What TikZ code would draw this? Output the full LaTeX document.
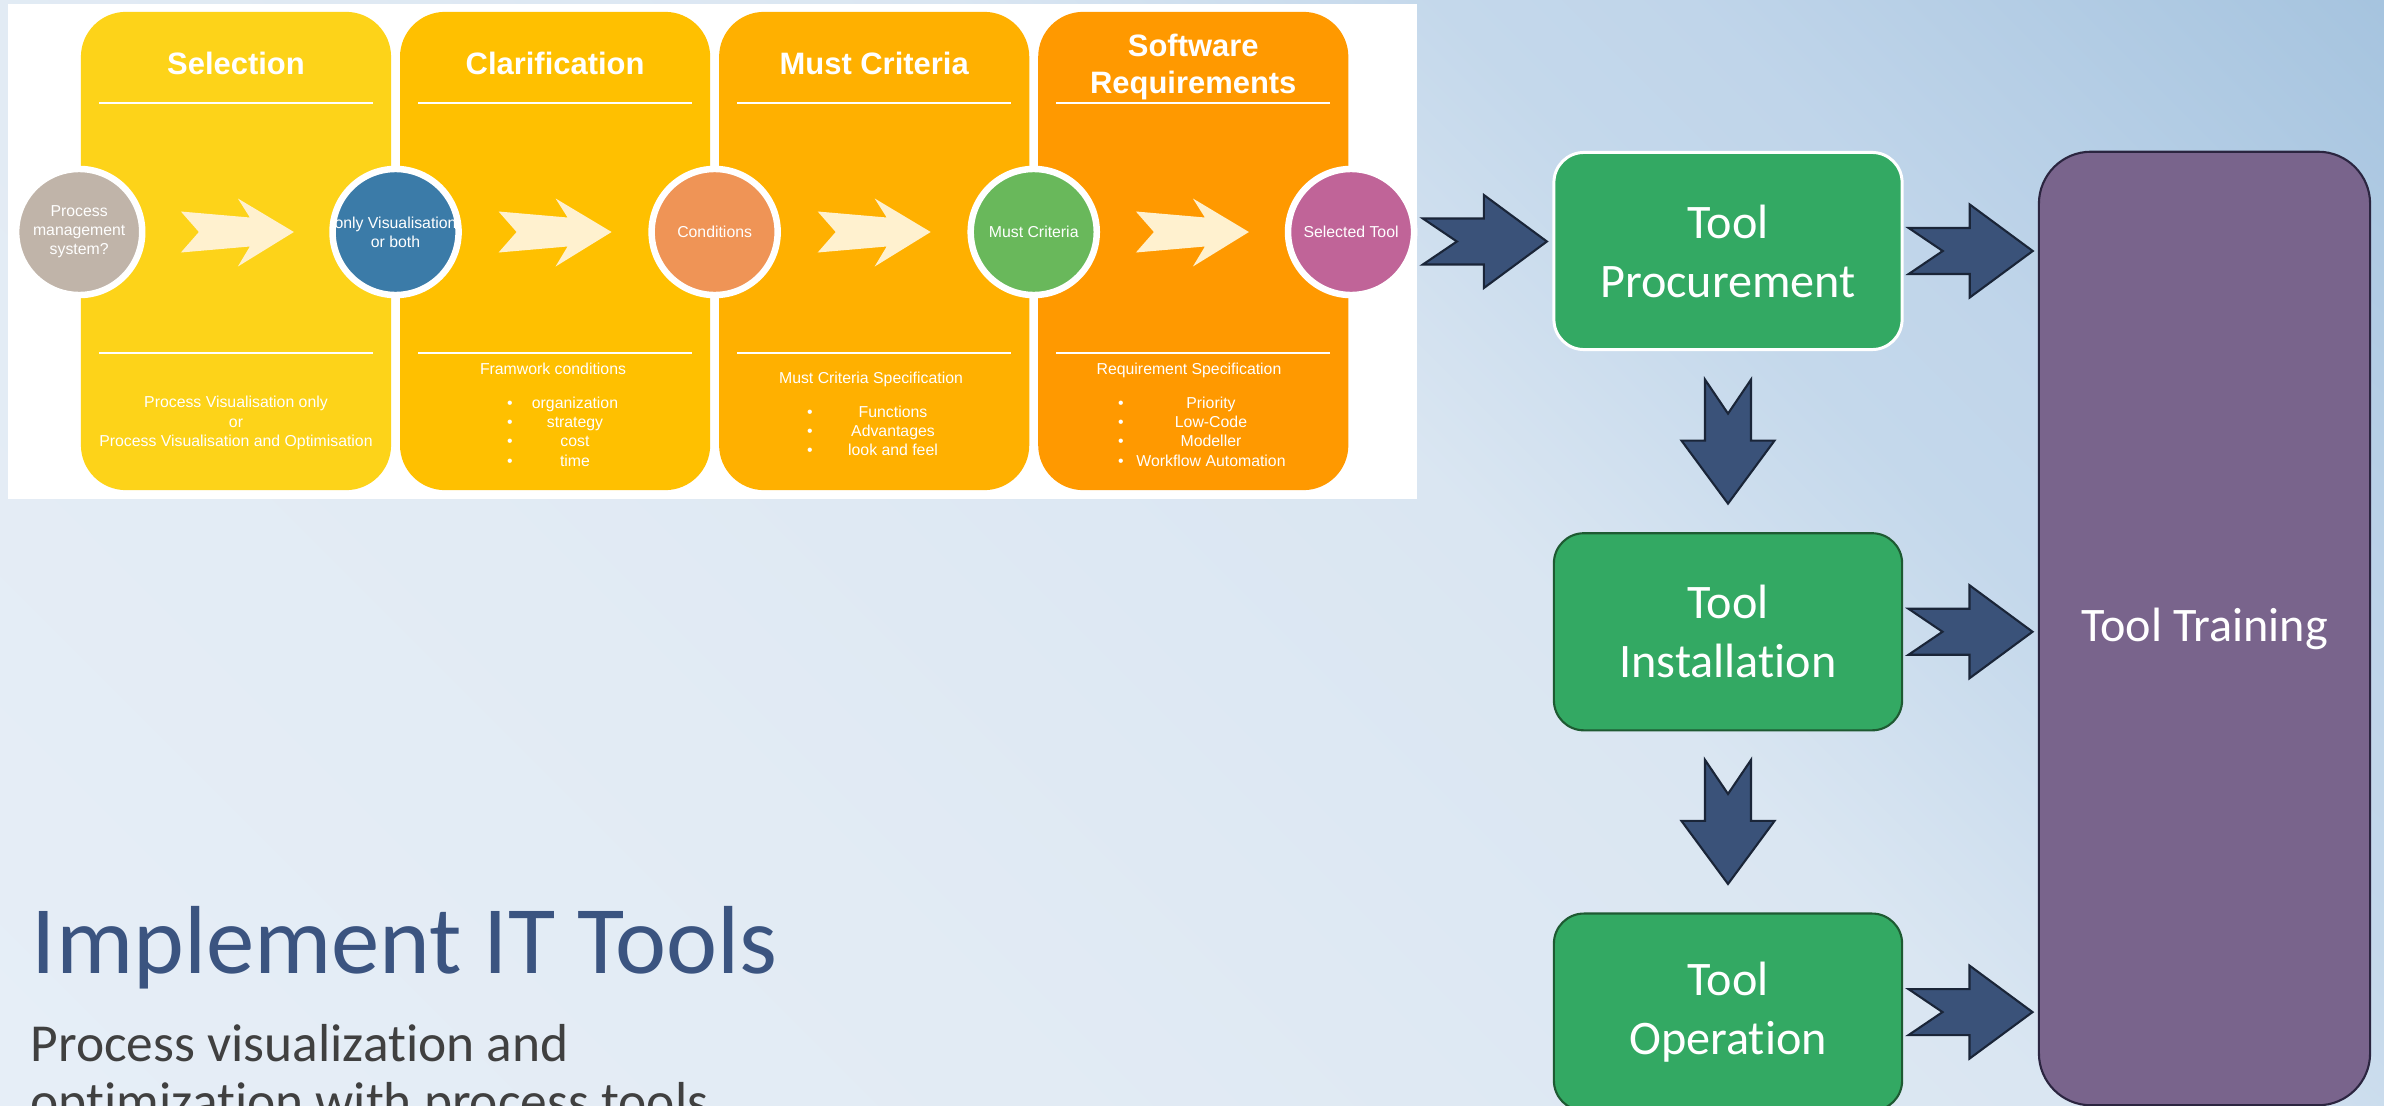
\documentclass[tikz,border=0pt]{standalone}
\usepackage{fontspec}
\setmainfont{Liberation Sans}
\newfontfamily\calibri{Carlito}[Ligatures=NoCommon]
\usepackage{tikz}
\usetikzlibrary{positioning,calc}

\definecolor{bgA}{HTML}{A6C4DF}
\definecolor{bgB}{HTML}{C0D5EA}
\definecolor{bgC}{HTML}{C4D8EB}
\definecolor{bgD}{HTML}{DAE6F2}
\definecolor{bgE}{HTML}{E2EBF4}
\definecolor{bgF}{HTML}{E6EEF7}
\definecolor{selyellow}{HTML}{FDD319}
\definecolor{clarorange}{HTML}{FFC000}
\definecolor{mustorange}{HTML}{FFB000}
\definecolor{softorange}{HTML}{FF9900}
\definecolor{pmsgrey}{HTML}{C0B4A9}
\definecolor{visblue}{HTML}{3B7BA8}
\definecolor{condorange}{HTML}{EF9456}
\definecolor{mustgreen}{HTML}{69B85B}
\definecolor{toolpurple}{HTML}{C06498}
\definecolor{cream}{HTML}{FFF1CF}
\definecolor{navy}{HTML}{3A5279}
\definecolor{navyline}{HTML}{1A2538}
\definecolor{toolgreen}{HTML}{33A963}
\definecolor{boxline}{HTML}{1E5A32}
\definecolor{trainpurple}{HTML}{79648C}
\definecolor{trainline}{HTML}{2B2540}
\definecolor{titleblue}{HTML}{3B5480}
\definecolor{subgrey}{HTML}{404040}

\pgfdeclarehorizontalshading{bgshade}{100bp}{color(0bp)=(bgA); color(14.6bp)=(bgA); color(28.7bp)=(bgB); color(33.7bp)=(bgC); color(43.6bp)=(bgD); color(64.1bp)=(bgE); color(85.4bp)=(bgF); color(100bp)=(bgF)}

\begin{document}
\begin{tikzpicture}[x=0.01cm, y=-0.01cm,
    column/.style={rounded corners=0.45cm, minimum width=3.1cm, minimum height=4.78cm, inner sep=0pt},
    coltitle/.style={text=white, font=\fontsize{8.8}{10.5}\selectfont\bfseries, align=center, inner sep=0pt},
    small/.style={text=white, font=\fontsize{4.5}{5.45}\selectfont, align=center, inner sep=0pt},
    stage/.style={circle, draw=white, line width=0.065cm, minimum size=1.26cm, small},
    sepline/.style={white, line width=0.6pt},
    greenbox/.style={rounded corners=0.3cm, fill=toolgreen, draw=boxline, line width=0.6pt, minimum width=3.48cm, minimum height=1.97cm, text=white, align=center, font=\calibri\fontsize{13.7}{16.8}\selectfont},
    lightarrow/.pic={\fill[cream] (-56.5,-20.5) -- (-38.5,0) -- (-56.5,20.5) -- (12.5,14.5) -- (0.5,34.5) -- (56.5,0) -- (0.5,-33.5) -- (12.5,-14.5) -- cycle;},
    navyarrow/.pic={\filldraw[fill=navy, draw=navyline, line width=0.6pt] (-62,-23) -- (-28,0) -- (-62,23) -- (-1,23) -- (-1,46.5) -- (62,0) -- (-1,-46.5) -- (-1,-23) -- cycle;}]

  % background and white panel
  \useasboundingbox (0,0) rectangle (2384,1106);
  \shade[shading=bgshade, shading angle=-135] (0,0) rectangle (2384,1106);
  \fill[white] (8,4) rectangle (1417,499);

  % the four selection columns
  \node[column, fill=selyellow] (colSel) at (236,251) {};
  \node[column, fill=clarorange, right=0.075cm of colSel] (colClar) {};
  \node[column, fill=mustorange, right=0.075cm of colClar] (colMust) {};
  \node[column, fill=softorange, right=0.075cm of colMust] (colSoft) {};

  \node[coltitle] (tSel) at ($(colSel.north)+(0,52)$) {Selection};
  \node[coltitle] (tClar) at ($(colClar.north)+(0,52)$) {Clarification};
  \node[coltitle] (tMust) at ($(colMust.north)+(0,52)$) {Must Criteria};
  \node[coltitle] (tSoft) at ($(colSoft.north)+(0,56)$) {Software\\Requirements};

  \foreach \c in {colSel,colClar,colMust,colSoft} {
    \draw[sepline] ($(\c.north west)+(19,92)$) -- ($(\c.north east)+(-19,92)$);
    \draw[sepline] ($(\c.north west)+(19,342)$) -- ($(\c.north east)+(-19,342)$);
  }

  % specification texts
  \node[small] (selText) at (236,423) {Process Visualisation only\\or\\Process Visualisation and Optimisation};

  \node[small, anchor=base] (clarHead) at (553,374) {Framwork conditions};
  \foreach \t [count=\i] in {organization,strategy,cost,time} {
    \node[small, anchor=base] (clarBul\i) at (510,389+19.3*\i) {\textbullet};
    \node[small, anchor=base] (clarItem\i) at (575,389+19.3*\i) {\t};
  }

  \node[small, anchor=base] (mustHead) at (871,383) {Must Criteria Specification};
  \foreach \t [count=\i] in {Functions,Advantages,look and feel} {
    \node[small, anchor=base] (mustBul\i) at (810,399+18.7*\i) {\textbullet};
    \node[small, anchor=base] (mustItem\i) at (893,399+18.7*\i) {\t};
  }

  \node[small, anchor=base] (softHead) at (1189,374) {Requirement Specification};
  \foreach \t [count=\i] in {Priority,Low-Code,Modeller,Workflow Automation} {
    \node[small, anchor=base] (softBul\i) at (1121,389+19.3*\i) {\textbullet};
    \node[small, anchor=base] (softItem\i) at (1211,389+19.3*\i) {\t};
  }

  % stages
  \node[stage, fill=pmsgrey] (pms) at ($(colSel.west)+(-1,-19)$) {Process\\management\\system?};
  \node[stage, fill=visblue] (vis) at ($(colSel.east)!0.5!(colClar.west)+(0,-19)$) {only Visualisation\\or both};
  \node[stage, fill=condorange] (cond) at ($(colClar.east)!0.5!(colMust.west)+(0,-19)$) {Conditions};
  \node[stage, fill=mustgreen] (must) at ($(colMust.east)!0.5!(colSoft.west)+(0,-19)$) {Must Criteria};
  \node[stage, fill=toolpurple] (seltool) at ($(colSoft.east)+(2,-19)$) {Selected Tool};

  \pic at ($(pms)!0.5!(vis)$) {lightarrow};
  \pic at ($(vis)!0.5!(cond)$) {lightarrow};
  \pic at ($(cond)!0.5!(must)$) {lightarrow};
  \pic at ($(must)!0.5!(seltool)$) {lightarrow};

  % tool implementation
  \node[greenbox, draw=white, line width=0.85pt] (proc) at (1728,251) {Tool\\Procurement};
  \node[greenbox, below=1.81cm of proc] (inst) {Tool\\Installation};
  \node[greenbox, below=1.81cm of inst] (oper) {Tool\\Operation};
  \node[rounded corners=0.52cm, fill=trainpurple, draw=trainline, line width=0.6pt,
        minimum width=3.31cm, minimum height=9.53cm, text=white,
        font=\calibri\fontsize{13.7}{16.8}\selectfont] (training) at (2204.5,628.5) {Tool Training};

  \pic at ($(seltool.east)!0.5!(proc.west)$) {navyarrow};
  \pic at ($(proc.east)!0.5!(proc.east -| training.west)$) {navyarrow};
  \pic at ($(inst.east)!0.5!(inst.east -| training.west)$) {navyarrow};
  \pic at ($(oper.east)!0.5!(oper.east -| training.west)$) {navyarrow};
  \pic[rotate=-90] at ($(proc.south)!0.5!(inst.north)$) {navyarrow};
  \pic[rotate=-90] at ($(inst.south)!0.5!(oper.north)$) {navyarrow};

  % slide title
  \node[anchor=base west, inner sep=0pt, text=titleblue, font=\calibri\fontsize{27.5}{33}\selectfont] (title) at (31,973) {Implement IT Tools};
  \node[anchor=base west, inner sep=0pt, text=subgrey, font=\calibri\fontsize{15.2}{17.6}\selectfont] (sub1) at (30,1061) {Process visualization and};
  \node[anchor=base west, inner sep=0pt, text=subgrey, font=\calibri\fontsize{15.2}{17.6}\selectfont] (sub2) at (30,1119) {optimization with process tools};
\end{tikzpicture}
\end{document}
